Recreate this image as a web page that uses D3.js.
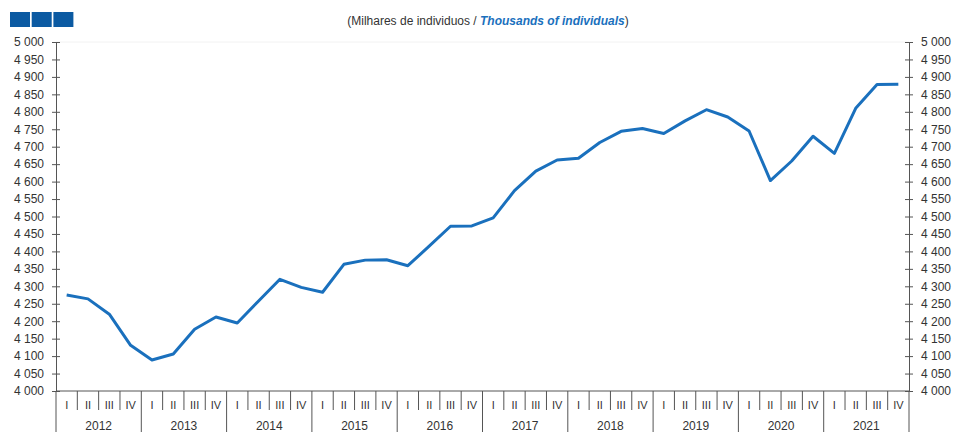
<!DOCTYPE html>
<html>
<head>
<meta charset="utf-8">
<script src="https://cdn.jsdelivr.net/npm/d3@7"></script>
<style>
  body { margin: 0; background: #fff; }
  text { font-family: "Liberation Sans", Arial, sans-serif; fill: #333; }
</style>
</head>
<body>
<svg id="chart" width="954" height="432"></svg>
<script>
// dados trimestrais (milhares de individuos)
var years = ['2012','2013','2014','2015','2016','2017','2018','2019','2020','2021'];
var quarters = ['I','II','III','IV'];
var values = [
  4275, 4264, 4220, 4131,
  4089, 4106, 4177, 4212,
  4195, 4258, 4320, 4297,
  4283, 4363, 4375, 4376,
  4359, 4415, 4472, 4473,
  4496, 4574, 4630, 4662,
  4667, 4712, 4744, 4752,
  4738, 4774, 4806, 4785,
  4745, 4603, 4659, 4730,
  4681, 4810, 4878, 4879
];
var yTicks = d3.range(4000, 5001, 50);

// (nao usar "top" -> window.top)
var plotLeft = 56, plotRight = 909, plotTop = 42, plotBottom = 391;
var blue = '#1a70bd';

var svg = d3.select('#chart');

// icones do canto
svg.selectAll('rect.icon')
  .data([0, 1, 2])
  .enter()
  .append('rect')
  .attr('class', 'icon')
  .attr('x', function (d) { return 10 + d * 21.7; })
  .attr('y', 12)
  .attr('width', 20)
  .attr('height', 15)
  .attr('fill', '#0b5aa2');

// titulo
var title = svg.append('text')
  .attr('x', 488)
  .attr('y', 25)
  .attr('text-anchor', 'middle')
  .style('font-size', '12px');
title.append('tspan').text('(Milhares de individuos / ');
title.append('tspan').text('Thousands of individuals')
  .style('font-style', 'italic').style('font-weight', 'bold').style('fill', blue);
title.append('tspan').text(')');

var n = values.length;
var x = d3.scaleLinear().domain([0, n]).range([plotLeft, plotRight]);
var y = d3.scaleLinear().domain([4000, 5000]).range([plotBottom, plotTop]);

var fmt = function (d) { return d3.format(',')(d).replace(',', ' '); };

// linha fraca no topo
svg.append('line')
  .attr('x1', plotLeft).attr('x2', plotRight)
  .attr('y1', y(5000)).attr('y2', y(5000))
  .attr('stroke', '#f2f2f2');

// eixo esquerdo
var yLeft = svg.append('g')
  .attr('transform', 'translate(' + plotLeft + ',0)')
  .call(d3.axisLeft(y).tickValues(yTicks).tickFormat(fmt).tickSizeInner(4).tickSizeOuter(0).tickPadding(8));
yLeft.selectAll('.tick line').attr('x1', 4);

// eixo direito
var yRight = svg.append('g')
  .attr('transform', 'translate(' + plotRight + ',0)')
  .call(d3.axisRight(y).tickValues(yTicks).tickFormat(fmt).tickSizeInner(4).tickSizeOuter(0).tickPadding(8));
yRight.selectAll('.tick line').attr('x1', -4);

svg.selectAll('.domain, .tick line').attr('stroke', '#555');
svg.selectAll('.tick text').style('font-size', '12px').attr('fill', '#333')
  .style('font-family', '"Liberation Sans", Arial, sans-serif');

// eixo inferior
svg.append('line')
  .attr('x1', plotLeft).attr('x2', plotRight)
  .attr('y1', plotBottom).attr('y2', plotBottom)
  .attr('stroke', '#555');

var idx = d3.range(n + 1);
svg.selectAll('line.sep')
  .data(idx)
  .enter()
  .append('line')
  .attr('class', 'sep')
  .attr('x1', function (d) { return x(d); })
  .attr('x2', function (d) { return x(d); })
  .attr('y1', plotBottom)
  .attr('y2', function (d) { return d % 4 == 0 ? 432 : 410; })
  .attr('stroke', '#555');

svg.selectAll('text.q')
  .data(d3.range(n))
  .enter()
  .append('text')
  .attr('class', 'q')
  .attr('x', function (d) { return x(d + 0.5); })
  .attr('y', 409)
  .attr('text-anchor', 'middle')
  .style('font-size', '11px')
  .text(function (d) { return quarters[d % 4]; });

svg.selectAll('text.yr')
  .data(years)
  .enter()
  .append('text')
  .attr('class', 'yr')
  .attr('x', function (d, i) { return x(i * 4 + 2); })
  .attr('y', 430)
  .attr('text-anchor', 'middle')
  .style('font-size', '12px')
  .text(function (d) { return d; });

// serie
var line = d3.line()
  .x(function (d, i) { return x(i + 0.5); })
  .y(function (d) { return y(d); });

svg.append('path')
  .datum(values)
  .attr('d', line)
  .attr('fill', 'none')
  .attr('stroke', blue)
  .attr('stroke-width', 3)
  .attr('stroke-linejoin', 'round');
</script>
</body>
</html>
